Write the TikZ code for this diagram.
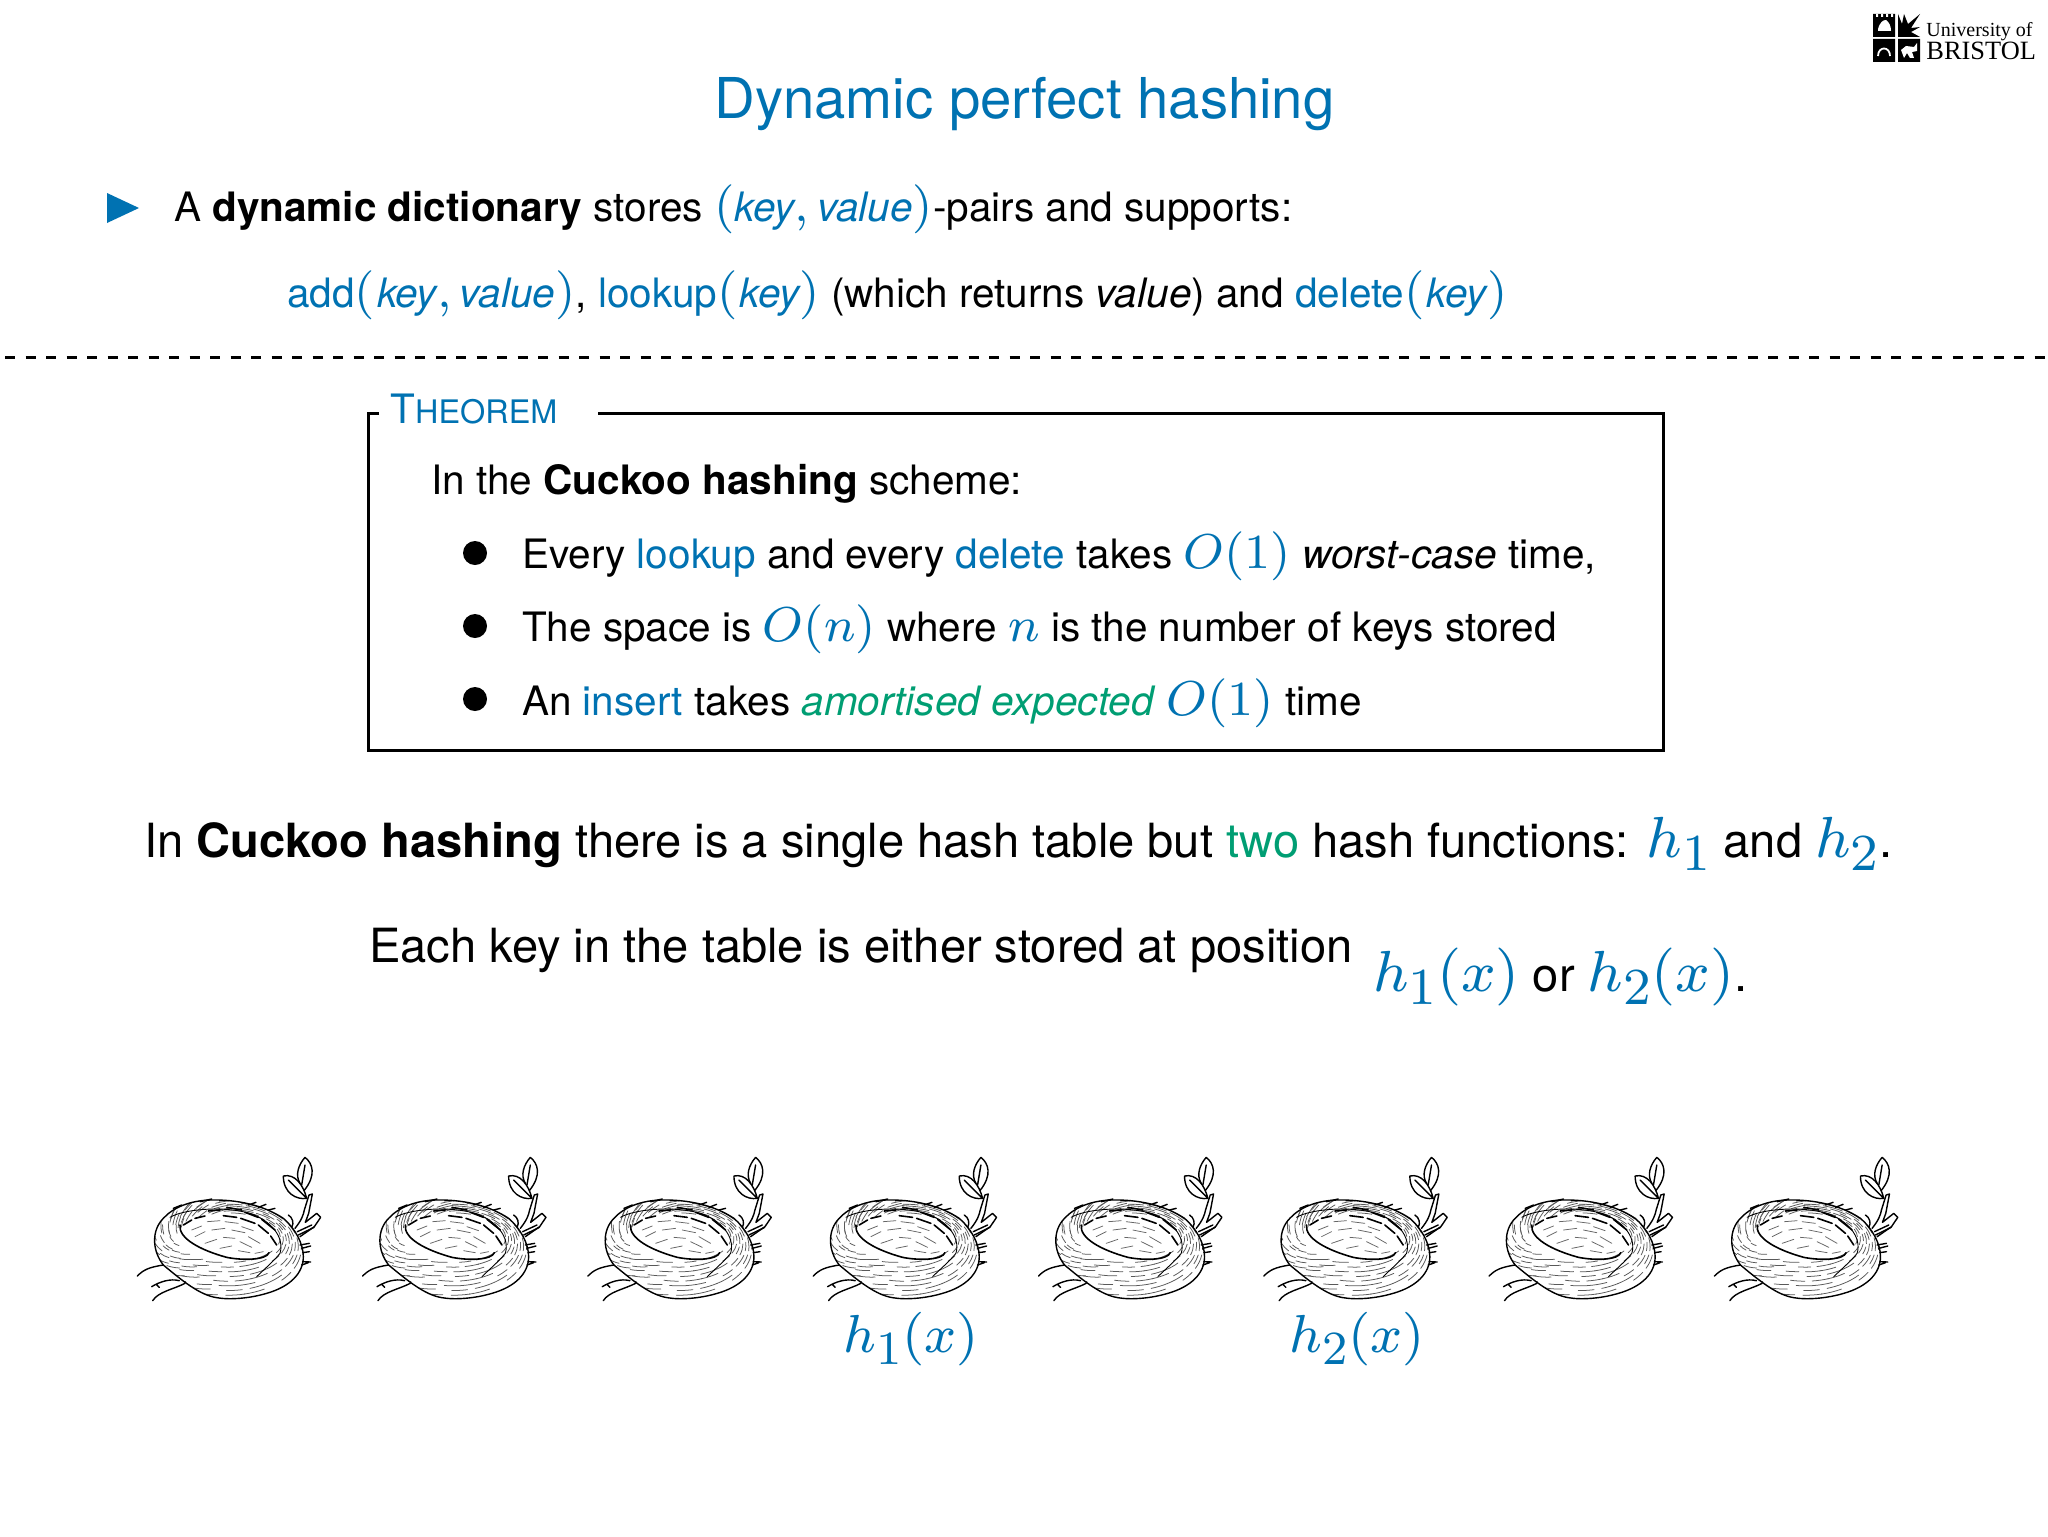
\documentclass[tikz,border=0pt]{standalone}
\usepackage{fix-cm}
\usepackage[no-math]{fontspec}
\setmainfont{TeX Gyre Heros}
\newfontfamily\logofont{Liberation Serif}
\definecolor{hblue}{RGB}{0,114,178}
\definecolor{hgreen}{RGB}{0,158,115}
\DeclareFontShape{OML}{cmm}{m}{it}{<-> cmmi8}{}
\DeclareFontShape{OT1}{cmr}{m}{n}{<-> cmr8}{}
\DeclareMathSizes{29}{29}{26}{20}
\DeclareMathSizes{26.8}{26.8}{23.8}{18}
\DeclareMathSizes{24.5}{24.5}{21}{16}
\newcommand{\fsz}[1]{\fontsize{#1}{#1}\selectfont}
\newcommand{\bl}[1]{\textcolor{hblue}{#1}}
\newcommand{\gr}[1]{\textcolor{hgreen}{#1}}
\newcommand{\ita}[1]{\mbox{\fsz{20.25}\itshape #1}}
\newcommand{\mth}[1]{{\fsz{24.5}$#1$}}
\newcommand{\mbg}[1]{{\fsz{29}$#1$}}
\tikzset{
 txt/.style={anchor=base west,inner sep=0pt,outer sep=0pt,font=\fsz{20.25}},
 big/.style={anchor=base west,inner sep=0pt,outer sep=0pt,font=\fsz{23.55}},
 dotb/.style={circle,fill=black,inner sep=0pt,minimum size=12pt},
 thin nest/.style={line width=0.38pt,black!65,line cap=round},
 nestline/.style={line width=0.7pt,black,line cap=round,line join=round},
}
\newcommand{\neststrokes}{%
 % wall rings
 \foreach \u/\ph in {0.08/3,0.2/17,0.32/29,0.44/8,0.56/23,0.68/37,0.8/11,0.92/31}{%
  \pgfmathsetmacro{\ra}{150+75*\u}\pgfmathsetmacro{\rb}{68+80*\u}\pgfmathsetmacro{\cy}{320+37*\u}%
  \foreach \k in {0,...,15}{%
   \pgfmathsetmacro{\t}{\k*22.5+\ph+mod(\k*\k*7,9)}\pgfmathsetmacro{\d}{12+mod(\k*5,7)}%
   \pgfmathsetmacro{\px}{325+\ra*cos(\t)}\pgfmathsetmacro{\py}{\cy+\rb*sin(\t)}%
   \pgfmathsetmacro{\tilt}{max(0,-cos(\t))*42}%
   \draw[thin nest,rotate around={\tilt:(\px,\py)}] (\px,\py) arc[start angle=\t,delta angle=\d,x radius=\ra,y radius=\rb];
  }%
 }%
 % bowl strokes
 \foreach \xa/\ya/\xb/\yb in {215/300/245/288,262/275/300/272,315/275/355/280,365/290/400/302,225/320/255/305,275/300/315/295,335/300/375/308,385/320/420/340,255/340/290/328,310/322/345/325,360/335/395/352,300/355/335/348,355/362/390/368,405/370/430/365}{%
  \draw[thin nest,black!60] (\xa,\ya) .. controls ({(\xa+\xb)/2},{(\ya+\yb)/2-2}) .. (\xb,\yb);
 }%
}
\newcommand{\nestoutline}{(130,405) .. controls (95,360) and (95,300) .. (130,265) .. controls (160,232) and (210,212) .. (270,210) .. controls (350,208) and (430,225) .. (490,265) .. controls (525,295) and (550,340) .. (550,380) .. controls (550,430) and (510,470) .. (440,490) .. controls (390,505) and (330,510) .. (290,503) .. controls (240,495) and (190,455) .. (130,405) -- cycle}
\newcommand{\drawnest}[1]{%
 \begin{scope}[shift={(#1,1130)},scale=1/3]
  \begin{scope}
   \clip \nestoutline;
   \fill[white] (180,285) .. controls (175,325) and (240,360) .. (320,382) .. controls (370,392) and (440,390) .. (447,368) -- (470,345) -- (425,268) -- (265,243) -- cycle;
   \neststrokes
  \end{scope}
  \draw[nestline] \nestoutline;
  % rim of the bowl
  \draw[nestline,line width=0.8pt] (180,285) .. controls (175,325) and (240,360) .. (320,382) .. controls (370,392) and (440,390) .. (447,368);
  \draw[nestline,line width=0.45pt] (150,262) .. controls (185,240) and (300,225) .. (390,250) .. controls (450,270) and (495,320) .. (480,370) .. controls (460,395) and (430,420) .. (410,440);
  \draw[nestline,line width=0.8pt] (190,285) -- (215,270) (225,265) -- (255,258) (265,243) -- (300,240) (310,257) -- (350,262) (320,232) -- (365,240) (362,265) -- (405,280) (375,247) -- (415,262) (415,285) -- (445,310) (425,268) -- (465,300) (452,318) -- (470,345);
  % spikes
  \draw[nestline] (240,215) -- (275,207) (385,225) -- (408,217) (415,232) -- (438,223) (445,240) -- (465,235) (160,235) -- (185,225);
  \draw[nestline] (505,255) .. controls (518,262) and (522,280) .. (516,290);
  \draw[nestline] (540,345) -- (568,340) (545,355) -- (572,348) (548,368) -- (568,365) (548,395) -- (572,396) (545,405) -- (565,398);
  % branch
  \draw[nestline] (525,295) .. controls (545,270) and (550,255) .. (553,240) -- (567,195) -- (577,192) -- (566,250) -- (556,277) -- (590,250) -- (602,262) -- (583,290) -- (540,320);
  \draw[nestline] (532,305) -- (575,285) (535,315) -- (582,292);
  % leaves
  \draw[nestline] (555,82) .. controls (535,105) and (525,135) .. (540,160) (555,82) .. controls (578,100) and (590,135) .. (552,182) (555,105) -- (545,165);
  \draw[nestline] (490,138) .. controls (525,130) and (550,165) .. (560,205) .. controls (530,210) and (490,190) .. (490,138) (505,150) -- (558,203);
  % roots
  \draw[nestline] (52,438) .. controls (70,420) and (85,412) .. (130,405);
  \draw[nestline] (95,470) .. controls (120,455) and (150,445) .. (178,452) (108,462) -- (118,472);
  \draw[nestline] (98,512) .. controls (115,485) and (160,478) .. (195,460);
 \end{scope}}
\begin{document}
\begin{tikzpicture}[x=0.5pt,y=-0.5pt]
\useasboundingbox (0,0) rectangle (2048,1536);
\fill[white] (0,0) rectangle (2048,1536);
% logo shield
\fill[black] (1873,14) rectangle (1895,37) (1873,39) rectangle (1895,62) (1898,39) rectangle (1920,62);
\fill[black] (1898,14) -- (1902,24) -- (1904,14) -- (1908,24) -- (1920,14) -- (1911,28) -- (1920,27) -- (1911,32) -- (1920,37) -- (1898,37) -- cycle;
\fill[white] (1876,14) rectangle (1878,17) (1881,14) rectangle (1883,17) (1886,14) rectangle (1888,17) (1891,14) rectangle (1893,17);
\fill[white] (1878,29) .. controls (1880,22) and (1883,20) .. (1886,20) .. controls (1889,22) and (1891,26) .. (1891,31) -- (1878,31) -- cycle;
\draw[white,line width=0.9pt] (1878,56) .. controls (1878,46) and (1890,46) .. (1890,56);
\fill[white] (1901,50) -- (1906,46) -- (1914,47) -- (1917,43) -- (1917,51) -- (1912,52) -- (1914,58) -- (1910,58) -- (1907,53) -- (1904,58) -- cycle;
\node[anchor=base west,inner sep=0pt] (logoa) at (1926,37) {\logofont\fontsize{10}{10}\selectfont University of};
\node[anchor=base west,inner sep=0pt] (logob) at (1926,60) {\logofont\fontsize{13.2}{13.2}\selectfont BRISTOL};
% title
\node[anchor=base,inner sep=0pt,font=\fsz{28.15},text=hblue] (title) at (1024.5,119) {Dynamic perfect hashing};
% intro
\fill[hblue] (107,193) -- (139,208) -- (107,223) -- cycle;
\node[txt] (l1) at (174,221) {A \textbf{dynamic dictionary} stores \bl{\mth{(\ita{key},\ita{value})}}-pairs and supports:};
\node[txt] (l2) at (287,307) {\bl{add\mth{(\kern1.1pt\ita{key},\ita{value})}}, \bl{lookup\mth{(\kern1.1pt\ita{key})}} (which returns \textit{value}) and \bl{delete\mth{(\kern1.1pt\ita{key})}}};
\draw[line width=1.5pt,dash pattern=on 5.2pt off 5.05pt] (5,357) -- (2048,357);
% theorem
\draw[line width=1.5pt] (379,413) -- (368,413) -- (368,750) -- (1663,750) -- (1663,413) -- (598,413);
\node[anchor=base west,inner sep=0pt,text=hblue] (th) at (390,423) {\fsz{20.25}T\fsz{16.2}HEOREM};
\node[txt] (c0) at (431,494) {In the \textbf{Cuckoo hashing} scheme:};
\node[dotb] (b1) at (475,553) {};
\node[dotb] (b2) at (475,626) {};
\node[dotb] (b3) at (475,699) {};
\node[txt] (c1) at (522,568) {Every \bl{lookup} and every \bl{delete} takes \bl{\mth{O(1)}} \textit{worst-case} time,};
\node[txt] (c2) at (522,641) {The space is \bl{\mth{O(n)}} where \bl{\mth{n}} is the number of keys stored};
\node[txt] (c3) at (522,715) {An \bl{insert} takes \gr{\textit{amortised expected}} \bl{\mth{O(1)}} time};
% big lines
\node[big] (p1) at (144,857) {In \textbf{Cuckoo hashing} there is a single hash table but \gr{two} hash functions: \bl{\mbg{h_1}} and \bl{\mbg{h_2}}.};
\node[big] (p2) at (369,962) {Each key in the table is either stored at position};
\node[big] (p3) at (1373,991) {\bl{\mbg{h_1(x)}} or \bl{\mbg{h_2(x)}}.};
% nests
\foreach \i in {0,...,7}{\pgfmathsetmacro{\xx}{120+225.3*\i}\drawnest{\xx}}
\node[anchor=base,inner sep=0pt,font=\fsz{26.8},text=hblue] (la) at (911,1352) {$h_1(x)$};
\node[anchor=base,inner sep=0pt,font=\fsz{26.8},text=hblue] (lb) at (1357,1352) {$h_2(x)$};
\end{tikzpicture}
\end{document}
